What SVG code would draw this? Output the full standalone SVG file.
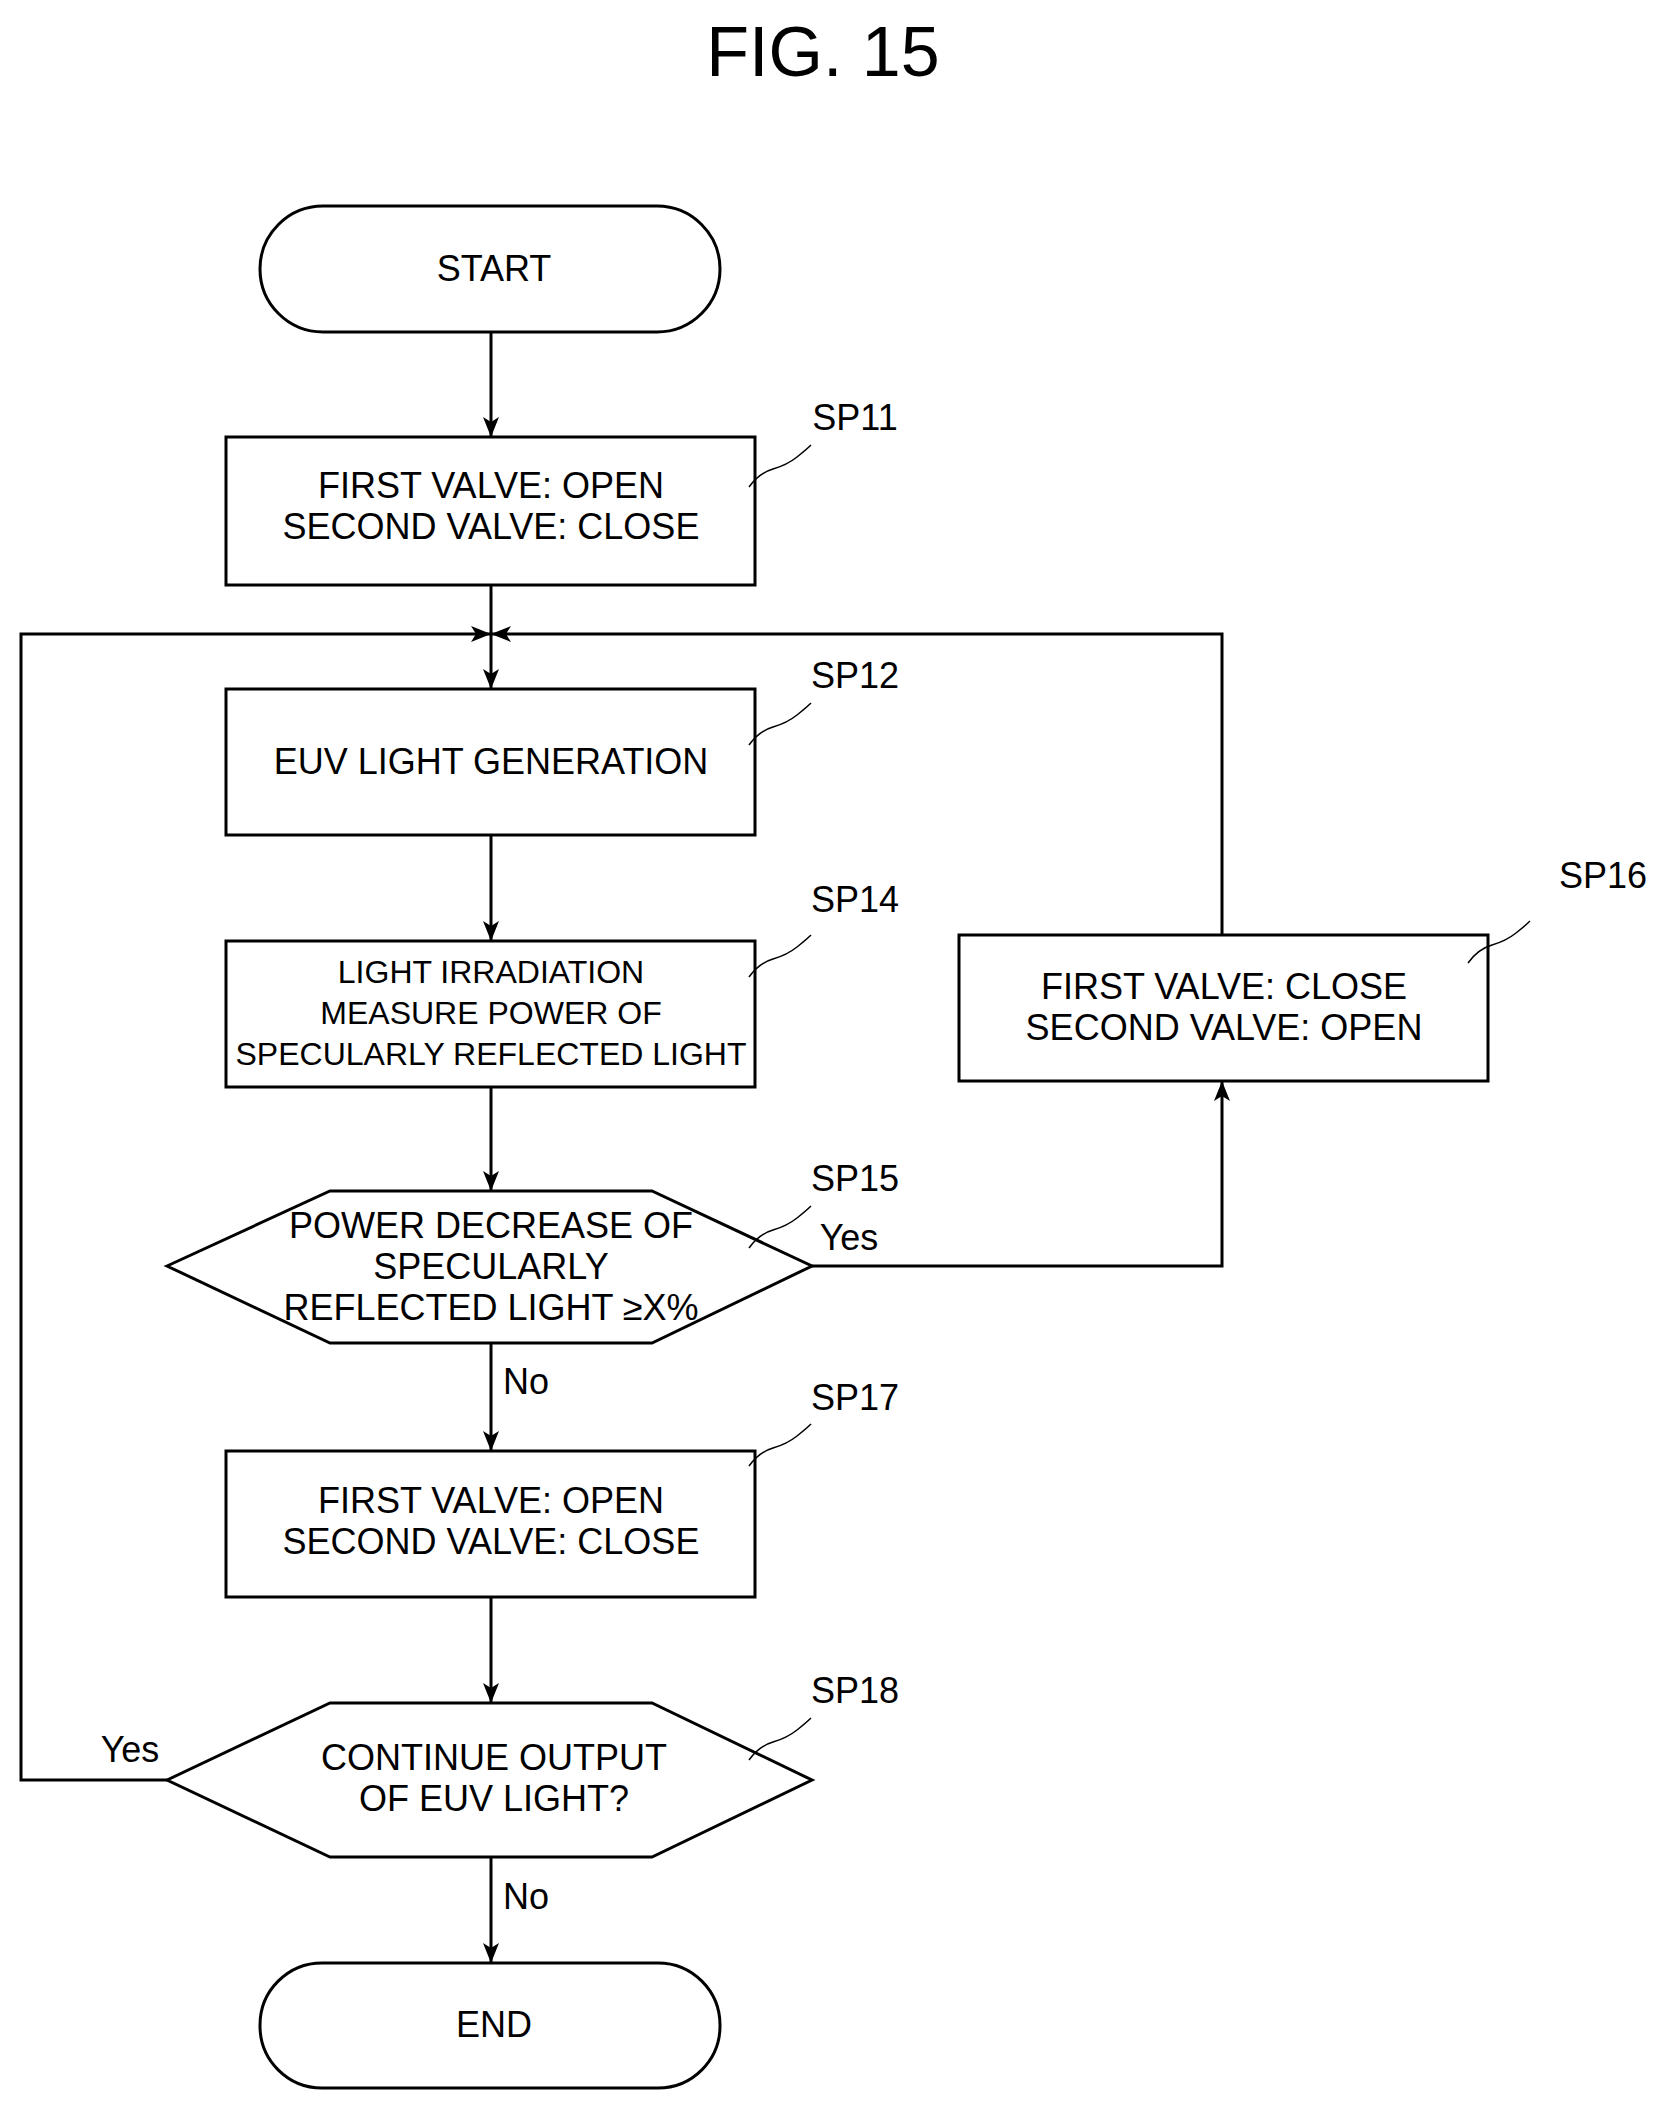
<svg xmlns="http://www.w3.org/2000/svg" width="1666" height="2104" viewBox="0 0 1666 2104">
<defs>
<marker id="ah" viewBox="0 0 20 20" refX="20" refY="10" markerWidth="20" markerHeight="20" markerUnits="userSpaceOnUse" orient="auto">
<path d="M0,2 L20,10 L0,18 L5,10 Z" fill="#000"/>
</marker>
</defs>
<style>
.s{fill:#fff;stroke:#000;stroke-width:3}
.c{fill:none;stroke:#000;stroke-width:3}
.l{fill:none;stroke:#000;stroke-width:1.5}
text{font-family:"Liberation Sans",Arial,sans-serif;font-size:36px;text-anchor:middle;fill:#000}
.sm{font-size:32px}
.lb{text-anchor:start}
</style>
<rect width="1666" height="2104" fill="#fff"/>
<text x="823" y="76" style="font-size:70px">FIG. 15</text>
<g id="connectors">
<line class="c" x1="491" y1="332" x2="491" y2="437" marker-end="url(#ah)"/>
<line class="c" x1="491" y1="585" x2="491" y2="689" marker-end="url(#ah)"/>
<line class="c" x1="491" y1="835" x2="491" y2="941" marker-end="url(#ah)"/>
<line class="c" x1="491" y1="1087" x2="491" y2="1191" marker-end="url(#ah)"/>
<line class="c" x1="491" y1="1343" x2="491" y2="1451" marker-end="url(#ah)"/>
<line class="c" x1="491" y1="1597" x2="491" y2="1703" marker-end="url(#ah)"/>
<line class="c" x1="491" y1="1857" x2="491" y2="1963" marker-end="url(#ah)"/>
<polyline class="c" points="812,1266 1222,1266 1222,1081" marker-end="url(#ah)"/>
<polyline class="c" points="1222,935 1222,634 491,634" marker-end="url(#ah)"/>
<polyline class="c" points="167,1780 21,1780 21,634 491,634" marker-end="url(#ah)"/>
<text x="849" y="1250" class="lb" style="text-anchor:middle">Yes</text>
<text x="526" y="1394">No</text>
<text x="130" y="1762">Yes</text>
<text x="526" y="1909">No</text>
</g>
<g id="start"><rect class="s" x="260" y="206" width="460" height="126" rx="63"/><text x="494" y="281">START</text></g>
<g id="sp11"><rect class="s" x="226" y="437" width="529" height="148"/>
<text x="491" y="498">FIRST VALVE: OPEN</text><text x="491" y="539">SECOND VALVE: CLOSE</text>
<path class="l" d="M749,487 q10,-14 24,-18 t24,-12 t14,-12"/><text x="855" y="430">SP11</text></g>
<g id="sp12"><rect class="s" x="226" y="689" width="529" height="146"/>
<text x="491" y="774">EUV LIGHT GENERATION</text>
<path class="l" d="M749,745 q10,-14 24,-18 t24,-12 t14,-12"/><text x="855" y="688">SP12</text></g>
<g id="sp14"><rect class="s" x="226" y="941" width="529" height="146"/>
<text x="491" y="983" class="sm">LIGHT IRRADIATION</text><text x="491" y="1024" class="sm">MEASURE POWER OF</text><text x="491" y="1065" class="sm">SPECULARLY REFLECTED LIGHT</text>
<path class="l" d="M749,977 q10,-14 24,-18 t24,-12 t14,-12"/><text x="855" y="912">SP14</text></g>
<g id="sp15"><polygon class="s" points="167,1266 330,1191 652,1191 812,1266 652,1343 330,1343"/>
<text x="491" y="1238">POWER DECREASE OF</text><text x="491" y="1279">SPECULARLY</text><text x="491" y="1320">REFLECTED LIGHT ≥X%</text>
<path class="l" d="M749,1248 q10,-14 24,-18 t24,-12 t14,-12"/><text x="855" y="1191">SP15</text></g>
<g id="sp16"><rect class="s" x="959" y="935" width="529" height="146"/>
<text x="1224" y="999">FIRST VALVE: CLOSE</text><text x="1224" y="1040">SECOND VALVE: OPEN</text>
<path class="l" d="M1468,963 q10,-14 24,-18 t24,-12 t14,-12"/><text x="1603" y="888">SP16</text></g>
<g id="sp17"><rect class="s" x="226" y="1451" width="529" height="146"/>
<text x="491" y="1513">FIRST VALVE: OPEN</text><text x="491" y="1554">SECOND VALVE: CLOSE</text>
<path class="l" d="M749,1466 q10,-14 24,-18 t24,-12 t14,-12"/><text x="855" y="1410">SP17</text></g>
<g id="sp18"><polygon class="s" points="167,1780 330,1703 652,1703 812,1780 652,1857 330,1857"/>
<text x="494" y="1770">CONTINUE OUTPUT</text><text x="494" y="1811">OF EUV LIGHT?</text>
<path class="l" d="M749,1760 q10,-14 24,-18 t24,-12 t14,-12"/><text x="855" y="1703">SP18</text></g>
<g id="end"><rect class="s" x="260" y="1963" width="460" height="125" rx="62"/><text x="494" y="2037">END</text></g>
</svg>
